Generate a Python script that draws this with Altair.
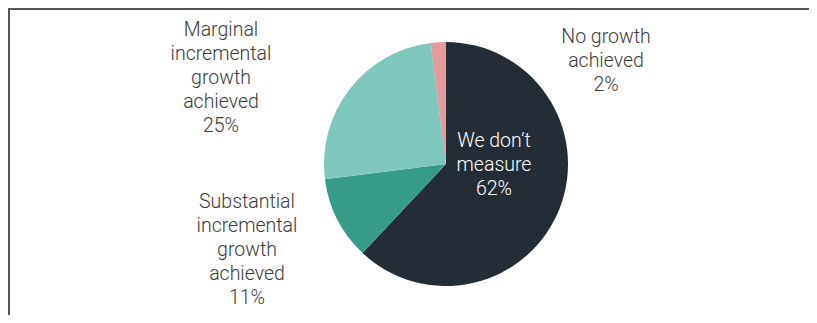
import altair as alt
import pandas as pd

categories = ["We don't measure", "Substantial incremental growth achieved",
              "Marginal incremental growth achieved", "No growth achieved"]
values = [62, 11, 25, 2]
colors = ["#242d36", "#369c88", "#7dc7bc", "#e6999b"]

label_texts = [
    ["We don\u2019t", "measure", "62%"],
    ["Substantial", "incremental", "growth", "achieved", "11%"],
    ["Marginal", "incremental", "growth", "achieved", "25%"],
    ["No growth", "achieved", "2%"],
]

W, H = 801, 307
CX, CY, R = 438, 156, 122

df = pd.DataFrame({"cat": categories, "val": values, "idx": list(range(len(values)))})

pie = alt.Chart(df).mark_arc(radius=R, stroke=None).encode(
    theta=alt.Theta("val:Q", stack=True),
    order=alt.Order("idx:Q"),
    color=alt.Color("cat:N", scale=alt.Scale(domain=categories, range=colors), legend=None),
    x=alt.value(CX),
    y=alt.value(CY),
)

label_pos = [(486, 133, "#ffffff"), (239, 194, "#3a3a3a"), (213, 22, "#3a3a3a"), (598, 29, "#3a3a3a")]

layers = [pie]
for lines, (lx, ly, col) in zip(label_texts, label_pos):
    layers.append(
        alt.Chart(pd.DataFrame({"t": [lines]})).mark_text(
            fontSize=19.5, font="Roboto", fontWeight=300, lineHeight=24,
            align="center", baseline="middle", color=col,
        ).encode(text="t", x=alt.value(lx), y=alt.value(ly))
    )

top_rule = alt.Chart(pd.DataFrame({"a": [0]})).mark_rule(color="#555555", strokeWidth=2).encode(
    x=alt.value(0), x2=alt.value(W), y=alt.value(1))
left_rule = alt.Chart(pd.DataFrame({"a": [0]})).mark_rule(color="#555555", strokeWidth=2).encode(
    x=alt.value(1), y=alt.value(0), y2=alt.value(H))
layers += [top_rule, left_rule]

chart = alt.layer(*layers).properties(
    width=W, height=H, autosize=alt.AutoSizeParams(type="none"), padding=0
).configure_view(stroke=None).configure(background="#ffffff")

chart.save("out.html", embed_options={"renderer": "svg", "actions": False})
